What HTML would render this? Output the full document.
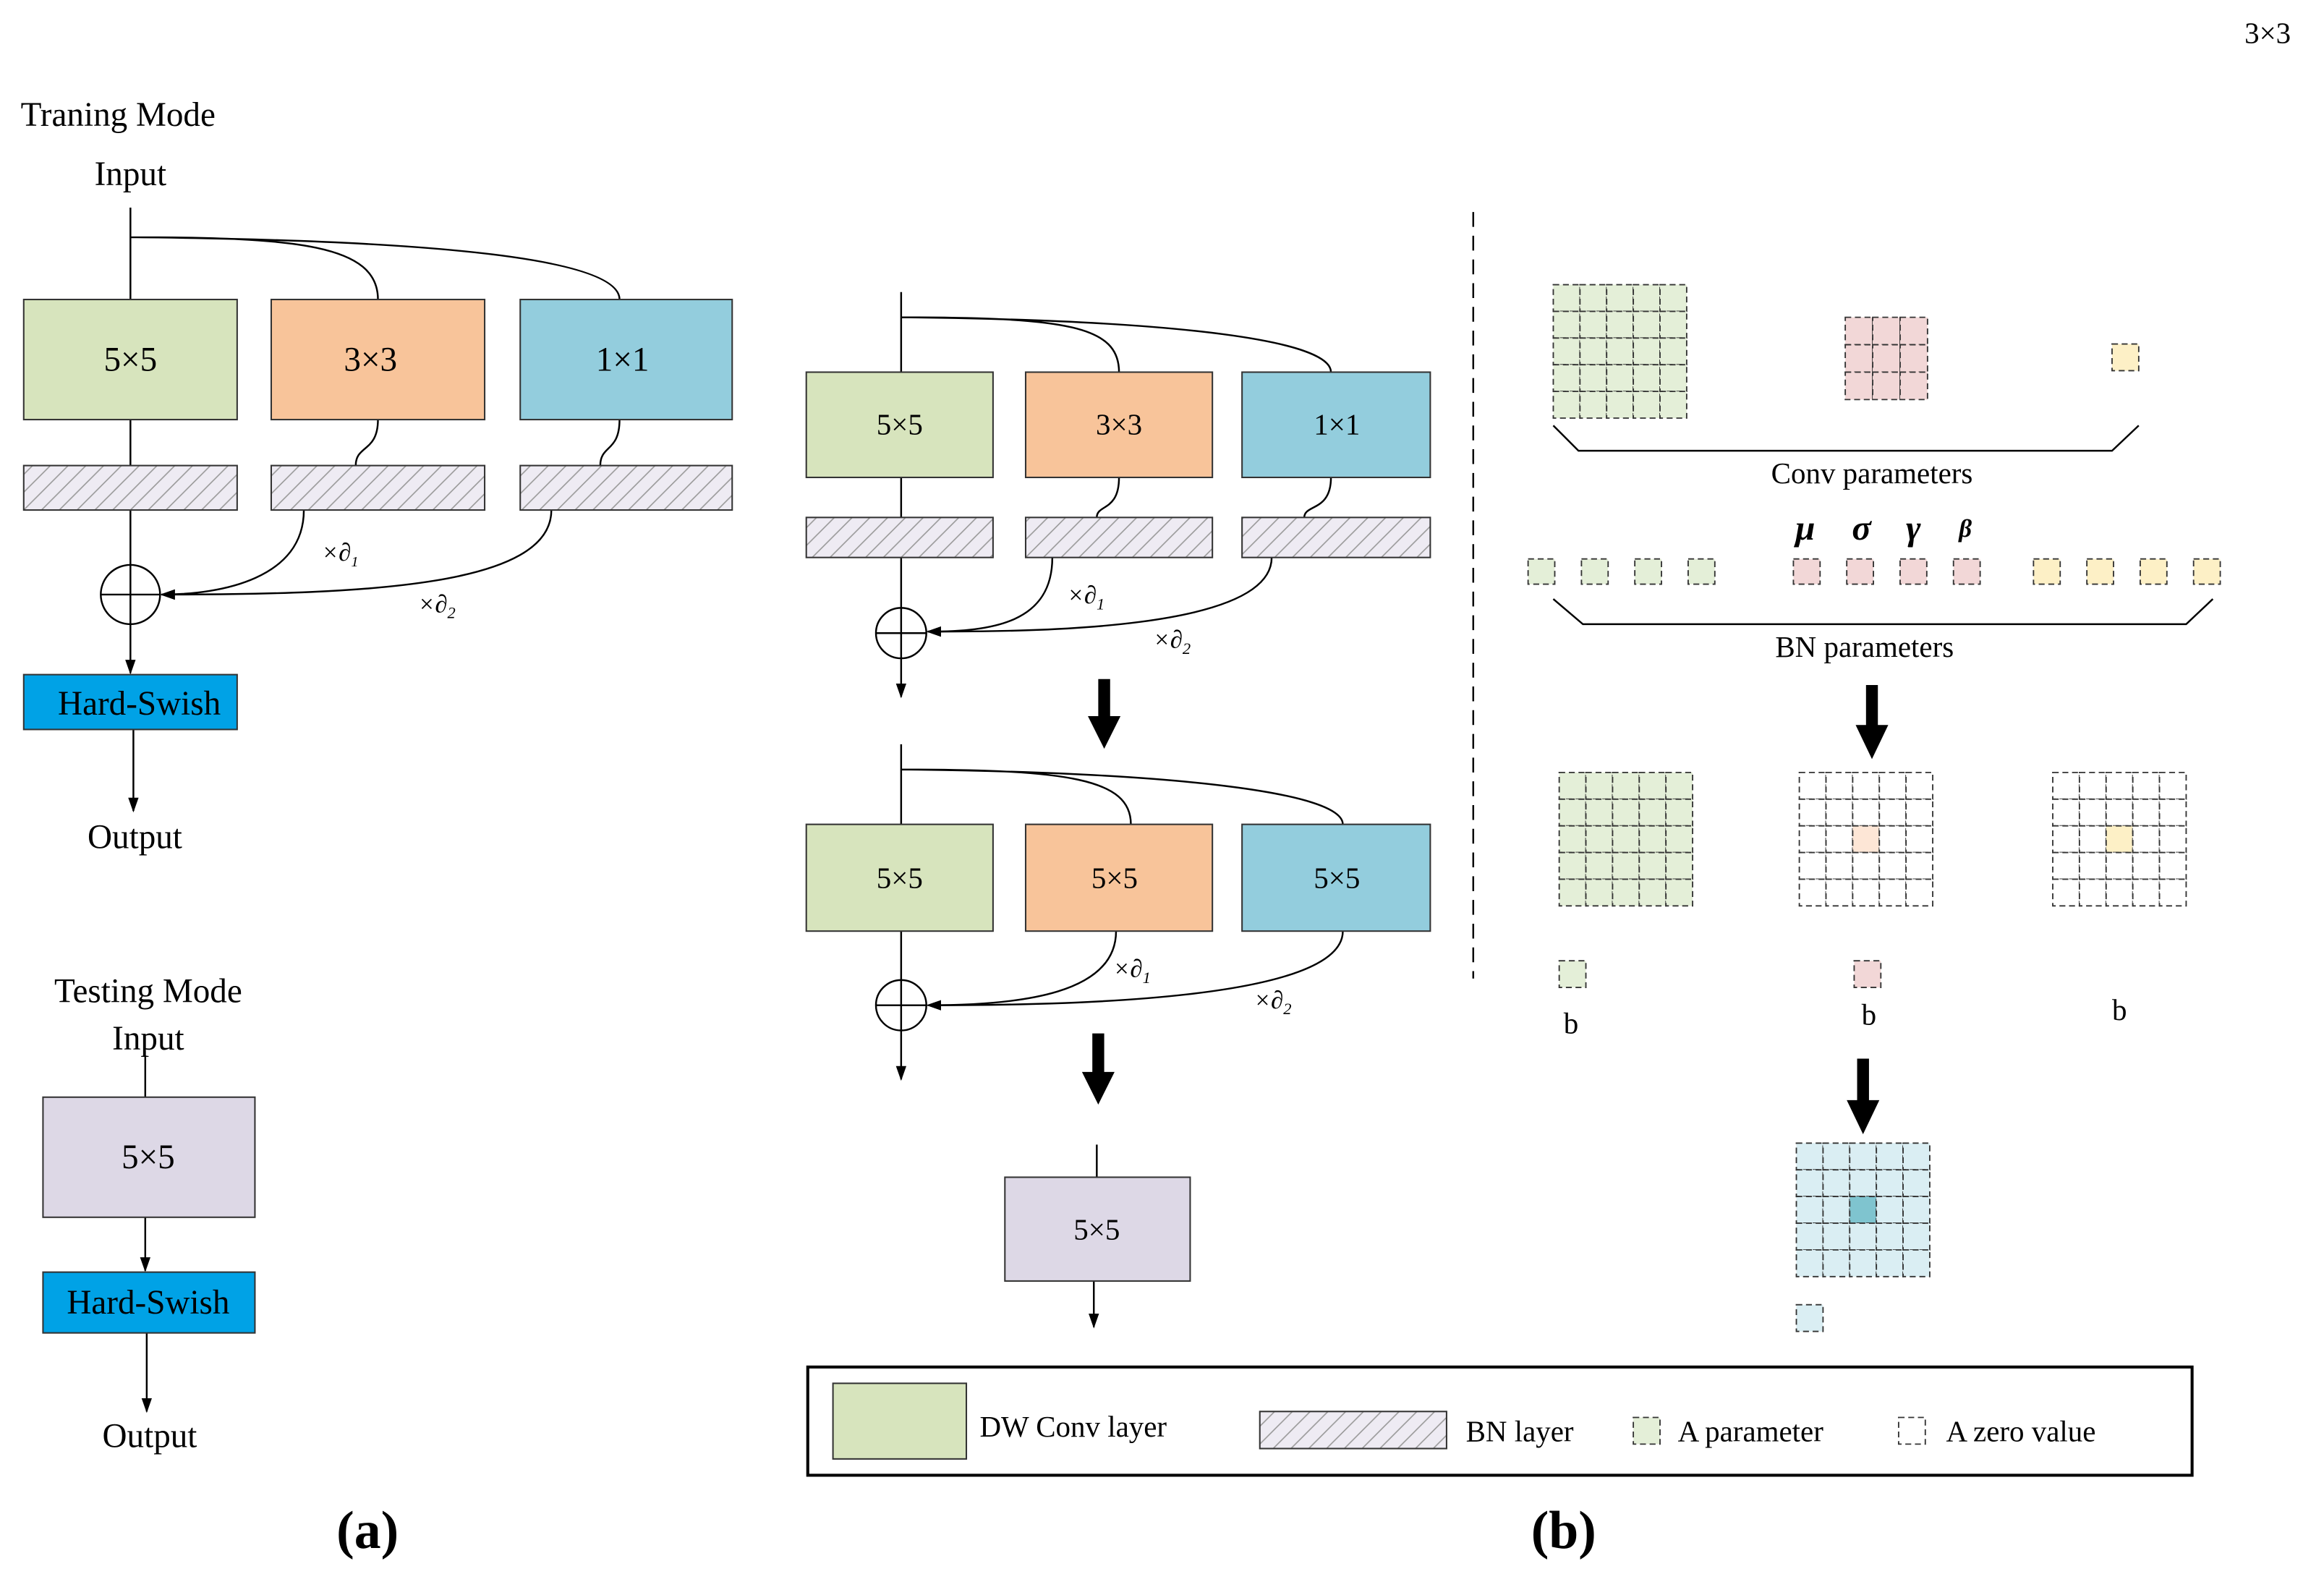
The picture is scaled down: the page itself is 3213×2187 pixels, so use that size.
<!DOCTYPE html>
<html><head><meta charset="utf-8"><style>
html,body{margin:0;padding:0;background:#fff}
svg{display:block}
text{font-family:"Liberation Serif",serif;fill:#000}
.w{font-family:"Liberation Serif","Noto Serif CJK SC",serif}
</style></head><body>
<svg id="s" width="3213" height="2187" viewBox="0 0 1568 1067" preserveAspectRatio="none" xmlns="http://www.w3.org/2000/svg">
<defs>
<pattern id="h" patternUnits="userSpaceOnUse" width="12" height="12">
<rect width="12" height="12" fill="#eeebf3"/>
<path d="M-3,15 L15,-3 M-3,3 L3,-3 M9,15 L15,9" stroke="#999" stroke-width="0.8"/>
</pattern>
<marker id="a" markerWidth="10" markerHeight="10" refX="9" refY="5" orient="auto" markerUnits="userSpaceOnUse"><path d="M0,1.5 L10,5 L0,8.5 z" fill="#000"/></marker>
</defs>
<g fill="none" stroke="#000" stroke-width="1.2">
<path d="M88,140 V202 M88,160 C200,160 255,165 255,202 M88,160 C300,162 418,175 418,202"/>
<path d="M88,283 V314 M88,344 V381 M255,283 C255,305 240,300 240,314 M418,283 C418,305 405,300 405,314"/>
<path d="M205,344 C205,390 150,401 109,401" marker-end="url(#a)"/>
<path d="M372,344 C372,395 250,401 109,401" marker-end="url(#a)"/>
<circle cx="88" cy="401" r="20"/><path d="M68,401 H108 M88,381 V421"/>
<path d="M88,421 V454" marker-end="url(#a)"/>
<path d="M90,492 V547" marker-end="url(#a)"/>
<path d="M98,712 V740"/>
<path d="M98,821 V857" marker-end="url(#a)"/>
<path d="M99,899 V952" marker-end="url(#a)"/>
<path d="M608,197 V251 M608,214 C720,214 755,220 755,251 M608,214 C800,216 898,230 898,251"/>
<path d="M608,322 V349 M608,376 V410 M755,322 C755,345 740,340 740,349 M898,322 C898,345 880,340 880,349"/>
<path d="M710,376 C710,420 670,426 626,426" marker-end="url(#a)"/>
<path d="M858,376 C858,425 700,426 626,426" marker-end="url(#a)"/>
<circle cx="608" cy="427" r="17"/><path d="M591,427 H625 M608,410 V444"/>
<path d="M608,444 V470" marker-end="url(#a)"/>
<path d="M608,502 V556 M608,519 C720,519 763,525 763,556 M608,519 C800,521 906,535 906,556"/>
<path d="M608,628 V661"/>
<path d="M753,628 C753,670 690,678 626,678" marker-end="url(#a)"/>
<path d="M906,628 C906,675 720,678 626,678" marker-end="url(#a)"/>
<circle cx="608" cy="678" r="17"/><path d="M591,678 H625 M608,661 V695"/>
<path d="M608,695 V728" marker-end="url(#a)"/>
<path d="M740,772 V794"/>
<path d="M738,864 V895" marker-end="url(#a)"/>
<path d="M994,143 V660" stroke-dasharray="10,6"/>
<path d="M1048,287 L1065,304 H1425 L1443,287"/>
<path d="M1048,404 L1068,421 H1475 L1493,404"/>
<rect x="545" y="922" width="934" height="73" stroke-width="2"/>
</g>
<g stroke="#333" stroke-width="1">
<rect x="16" y="202" width="144" height="81" fill="#d7e4bd"/>
<rect x="183" y="202" width="144" height="81" fill="#f8c49a"/>
<rect x="351" y="202" width="143" height="81" fill="#93cddd"/>
<rect x="16" y="314" width="144" height="30" fill="url(#h)"/>
<rect x="183" y="314" width="144" height="30" fill="url(#h)"/>
<rect x="351" y="314" width="143" height="30" fill="url(#h)"/>
<rect x="16" y="455" width="144" height="37" fill="#00a2e6"/>
<rect x="29" y="740" width="143" height="81" fill="#ddd8e6"/>
<rect x="29" y="858" width="143" height="41" fill="#00a2e6"/>
<rect x="544" y="251" width="126" height="71" fill="#d7e4bd"/>
<rect x="692" y="251" width="126" height="71" fill="#f8c49a"/>
<rect x="838" y="251" width="127" height="71" fill="#93cddd"/>
<rect x="544" y="349" width="126" height="27" fill="url(#h)"/>
<rect x="692" y="349" width="126" height="27" fill="url(#h)"/>
<rect x="838" y="349" width="127" height="27" fill="url(#h)"/>
<rect x="544" y="556" width="126" height="72" fill="#d7e4bd"/>
<rect x="692" y="556" width="126" height="72" fill="#f8c49a"/>
<rect x="838" y="556" width="127" height="72" fill="#93cddd"/>
<rect x="678" y="794" width="125" height="70" fill="#ddd8e6"/>
<rect x="562" y="933" width="90" height="51" fill="#d7e4bd"/>
<rect x="850" y="952" width="126" height="25" fill="url(#h)"/>
</g>
<g fill="#000">
<path d="M741,458 h8 v25 h7 l-11,22 l-11,-22 h7z"/>
<path d="M737,697 h8 v26 h7 l-11,22 l-11,-22 h7z"/>
<path d="M1259,462 h8 v27 h7 l-11,23 l-11,-23 h7z"/>
<path d="M1253,714 h8 v28 h7 l-11,23 l-11,-23 h7z"/>
</g>
<g id="grids"></g>
<g font-size="23">
<text x="14" y="85">Traning Mode</text>
<text x="88" y="125" text-anchor="middle">Input</text>
<text x="91" y="572" text-anchor="middle">Output</text>
<text x="100" y="676" text-anchor="middle">Testing Mode</text>
<text x="100" y="708" text-anchor="middle">Input</text>
<text x="101" y="976" text-anchor="middle">Output</text>
<text class="w" x="88" y="250" text-anchor="middle">5×5</text>
<text class="w" x="250" y="250" text-anchor="middle">3×3</text>
<text class="w" x="420" y="250" text-anchor="middle">1×1</text>
<text x="94" y="482" text-anchor="middle">Hard-Swish</text>
<text x="100" y="886" text-anchor="middle">Hard-Swish</text>
<text class="w" x="100" y="788" text-anchor="middle">5×5</text>
</g>
<g font-size="20">
<text class="w" x="607" y="293" text-anchor="middle">5×5</text>
<text class="w" x="755" y="293" text-anchor="middle">3×3</text>
<text class="w" x="902" y="293" text-anchor="middle">1×1</text>
<text class="w" x="607" y="599" text-anchor="middle">5×5</text>
<text class="w" x="752" y="599" text-anchor="middle">5×5</text>
<text class="w" x="902" y="599" text-anchor="middle">5×5</text>
<text class="w" x="740" y="836" text-anchor="middle">5×5</text>
<text class="w" x="1530" y="29" text-anchor="middle">3×3</text>
<text x="1263" y="326" text-anchor="middle">Conv parameters</text>
<text x="1258" y="443" text-anchor="middle">BN parameters</text>
<text x="1060" y="697" text-anchor="middle">b</text>
<text x="1261" y="691" text-anchor="middle">b</text>
<text x="1430" y="688" text-anchor="middle">b</text>
<text x="661" y="969">DW Conv layer</text>
<text x="989" y="972">BN layer</text>
<text x="1132" y="972">A parameter</text>
<text x="1313" y="972">A zero value</text>
</g>
<g font-size="17" font-style="italic">
<text x="217" y="378">×∂<tspan font-size="10" dy="4">1</tspan></text>
<text x="282" y="413">×∂<tspan font-size="11" dy="4">2</tspan></text>
<text x="720" y="407">×∂<tspan font-size="11" dy="4">1</tspan></text>
<text x="778" y="437">×∂<tspan font-size="11" dy="4">2</tspan></text>
<text x="751" y="659">×∂<tspan font-size="11" dy="4">1</tspan></text>
<text x="846" y="680">×∂<tspan font-size="11" dy="4">2</tspan></text>
</g>
<g font-style="italic" font-weight="bold" font-size="24">
<text x="1218" y="364" text-anchor="middle">μ</text>
<text x="1256" y="364" text-anchor="middle">σ</text>
<text x="1291" y="364" text-anchor="middle">γ</text>
<text x="1326" y="362" text-anchor="middle" font-size="17">β</text>
</g>
<g font-size="36" font-weight="bold">
<text x="248" y="1044" text-anchor="middle">(a)</text>
<text x="1055" y="1044" text-anchor="middle">(b)</text>
</g>
</svg>
<script>
var g=document.getElementById('grids'),NS='http://www.w3.org/2000/svg';
function r(x,y,w,h,f){var e=document.createElementNS(NS,'rect');e.setAttribute('x',x);e.setAttribute('y',y);e.setAttribute('width',w);e.setAttribute('height',h);e.setAttribute('fill',f);e.setAttribute('stroke','#333');e.setAttribute('stroke-width','0.9');e.setAttribute('stroke-dasharray','4,2.5');g.appendChild(e);}
function grid(x,y,n,c,f,center){for(var i=0;i<n;i++)for(var j=0;j<n;j++){var cf=f;if(center&&i==(n-1)/2&&j==(n-1)/2)cf=center;r(x+j*c,y+i*c,c,c,cf);}}
grid(1048,192,5,18,'#e4efd8');
grid(1245,214,3,18.5,'#f2d7d7');
r(1425,232,18,18,'#fdf0c6');
[1031,1067,1103,1139].forEach(function(x){r(x,377,18,17,'#e4efd8')});
[1210,1246,1282,1318].forEach(function(x){r(x,377,18,17,'#f2d7d7')});
[1372,1408,1444,1480].forEach(function(x){r(x,377,18,17,'#fdf0c6')});
grid(1052,521,5,18,'#e4efd8');
grid(1214,521,5,18,'#fff','#fde6d6');
grid(1385,521,5,18,'#fff','#fdf0c6');
r(1052,648,18,18,'#e4efd8');
r(1251,648,18,18,'#f2d7d7');
grid(1212,771,5,18,'#daeef3','#7fc4cf');
r(1212,880,18,18,'#daeef3');
r(1102,956,18,18,'#e4efd8');
r(1281,956,18,18,'#fff');
</script>
</body></html>
